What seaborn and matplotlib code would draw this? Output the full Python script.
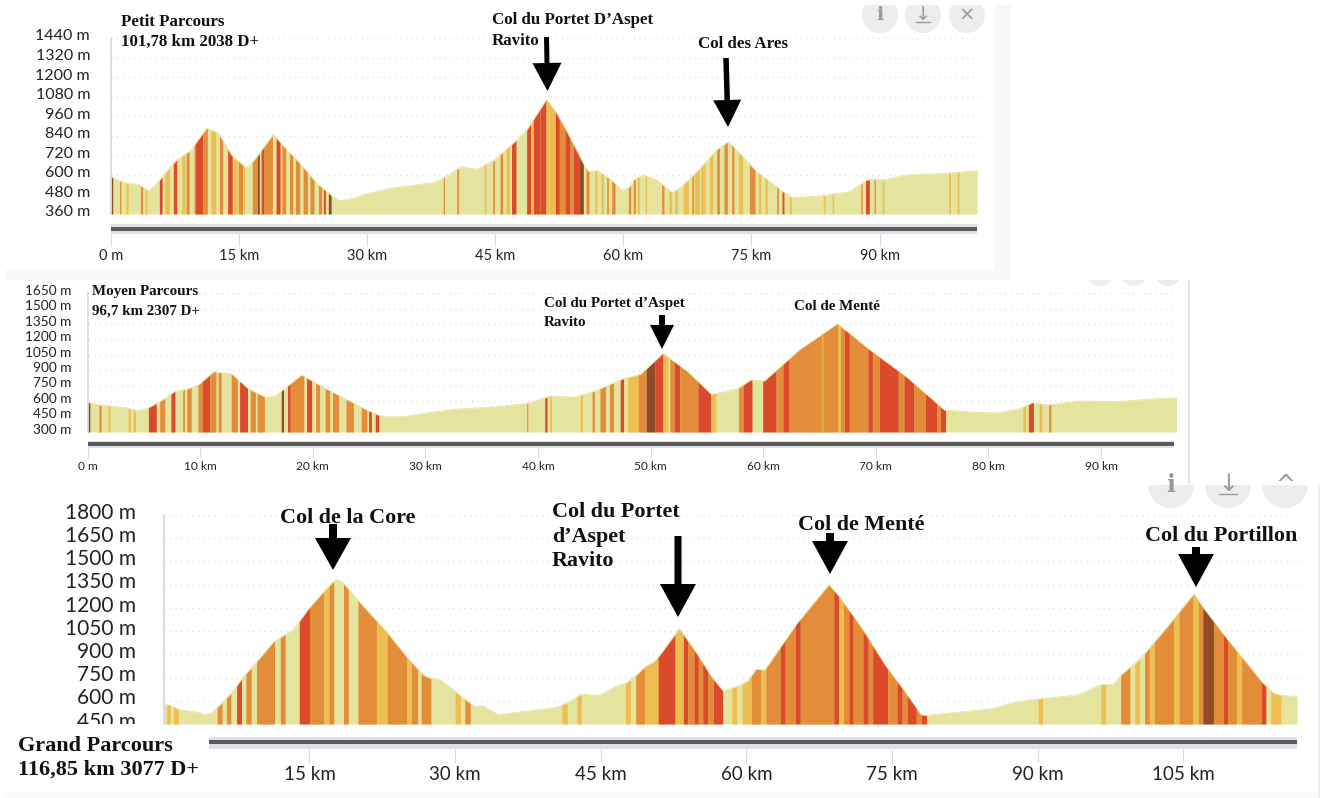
import numpy as np
import pandas as pd
import seaborn as sns
import matplotlib
matplotlib.use("Agg")
import matplotlib.pyplot as plt
from matplotlib.patches import Rectangle, Circle
from matplotlib.transforms import ScaledTranslation, Bbox

# ---------- data ----------
p1_km = [0,0.5,1.8,3.2,4.4,5.3,6.5,7.7,9.3,11.2,12.6,14.1,15.9,17.1,19,20.6,22.3,24.1,26,26.8,28.4,29.9,32.7,37.7,38.9,41,42.8,44.8,
         47.5,48.7,51,52.2,53.7,55.3,55.9,57,58.6,59.8,60.6,61.2,62.3,63.9,65.7,66.8,69,70.9,72.3,73.6,75.6,78.7,79.7,83,86.5,88.5,89.5,90.4,93.2,97.9,101.4]
p1_elev = [589,575,548,542,503,544,620,692,749,886,855,722,640,712,849,753,661,548,466,442,456,483,518,552,579,651,634,688,
           814,876,1064,978,835,671,620,626,569,507,518,569,600,569,491,528,640,753,804,733,620,497,462,470,497,569,573,569,600,610,626]
p1_yticks = [360,480,600,720,840,960,1080,1200,1320,1440]
p1_xticks = [0,15,30,45,60,75,90]
p1_bands = [(0,0.2,'D'),(1,1.15,'O'),(1.75,2,'L'),(3.45,3.7,'O'),(4,4.2,'L'),(5.66,5.98,'R'),(6.3,6.85,'L'),(7.3,7.7,'R'),(8.3,8.67,'L'),(8.8,9.15,'O'),
            (9.72,9.9,'O'),(9.9,10.74,'R'),(10.74,11.28,'O'),(11.7,12.26,'L'),(12.7,13.08,'O'),(13.66,14.2,'R'),(14.33,14.8,'L'),(14.9,15.42,'O'),(15.5,15.65,'L'),
            (16.55,17.15,'O'),(17.15,17.37,'D'),(17.57,17.92,'R'),(17.92,18.9,'O'),(19.33,19.8,'R'),(20,20.45,'O'),(20.9,21.28,'O'),(21.6,22.1,'O'),(22.5,23,'O'),
            (23.3,23.77,'O'),(24.3,24.67,'O'),(24.87,25.1,'R'),(25.45,25.77,'D'),
            (38.9,39.05,'O'),(40.5,40.7,'O'),(43.7,43.9,'L'),(44.7,44.9,'O'),(45.55,45.86,'O'),(46.25,46.65,'L'),(46.9,47.42,'R'),(48.67,49.14,'R'),(49.14,49.45,'L'),
            (49.45,50.23,'R'),(50.23,50.94,'R'),(50.94,51.33,'L'),(51.33,52.03,'L'),(52.03,52.5,'R'),(52.5,53.16,'O'),(53.16,53.75,'R'),(53.75,54.14,'O'),(54.14,54.84,'R'),
            (54.84,55.31,'D'),(55.62,55.97,'O'),(56.67,56.87,'L'),(57.38,57.65,'L'),(58.04,58.24,'O'),(58.63,59.02,'O'),(60.58,60.85,'O'),(61.16,61.4,'O'),(61.63,61.87,'L'),
            (62.53,62.72,'L'),(64.48,64.75,'O'),(65.34,65.65,'L'),(66.04,66.32,'L'),(67,67.6,'L'),(68,68.2,'O'),(68.3,68.9,'L'),(69.05,69.56,'L'),(70.07,70.46,'L'),
            (70.92,71.24,'O'),(71.78,72.17,'O'),(72.68,72.95,'O'),(73.46,73.97,'L'),(74.75,75.41,'O'),(75.8,76.08,'L'),(76.58,76.86,'L'),(77.95,78.15,'O'),(78.58,78.8,'R'),
            (79.43,79.67,'L'),(83.41,83.61,'L'),(84.43,84.62,'L'),(87.8,87.95,'O'),(88.35,88.8,'R'),(89.35,89.5,'O'),(90.3,90.5,'L'),(98.1,98.3,'L'),(99.1,99.3,'L')]

p2_km = [0,1.05,3.4,4.4,5.3,6.5,7.7,8.9,9.9,11.2,12.8,14.3,15.8,16.7,19,21.1,22.8,24.8,25.8,26.5,28.2,29.9,32.6,36.4,39.1,41.1,43.2,44.9,
         47.5,49.1,51.1,53.3,55.4,57.7,58.9,60.1,63.2,66.6,69.3,72.7,76.1,78.8,80.9,82.9,83.9,85.3,88,91.4,94.4,96.7]
p2_elev = [589,563,537,508,531,602,693,719,764,888,865,719,638,654,855,725,628,514,466,446,449,482,521,547,579,651,638,693,
           816,862,1066,888,667,719,807,797,1099,1355,1115,839,514,492,485,531,586,563,602,595,621,634]
p2_yticks = [300,450,600,750,900,1050,1200,1350,1500,1650]
p2_xticks = [0,10,20,30,40,50,60,70,80,90]
p2_bands = [(0,0.2,'D'),(1,1.2,'O'),(1.8,2,'L'),(3.6,3.8,'L'),(4.05,4.25,'L'),(5.4,6.1,'R'),(6.4,6.85,'O'),(7.4,7.75,'R'),(8.45,8.6,'O'),(8.8,9.2,'O'),
            (9.8,10.2,'O'),(10.2,10.85,'R'),(10.85,11.4,'O'),(11.6,11.85,'O'),(12.75,13.3,'O'),(13.5,14.2,'R'),(14.45,14.9,'O'),(15.05,15.7,'O'),
            (17.2,17.4,'D'),(17.75,18,'R'),(18,19.2,'O'),(19.45,19.9,'R'),(20.25,20.6,'O'),(21.1,21.5,'O'),(21.75,22.3,'O'),(22.95,23.6,'O'),(24.3,24.8,'O'),
            (24.95,25.2,'R'),(25.55,25.85,'R'),(39,39.1,'O'),(40.6,40.8,'R'),(41.05,41.2,'L'),(43.75,43.95,'L'),(44.8,45,'O'),(45.5,46,'O'),(46.35,46.7,'O'),
            (47.3,47.6,'R'),(47.95,48.9,'L'),(48.9,49.6,'O'),(49.6,50.4,'D'),(50.4,51.1,'R'),(51.1,51.55,'L'),(51.7,52.1,'O'),(52.1,52.6,'R'),(52.6,54.2,'O'),
            (54.2,55.35,'R'),(55.35,55.8,'L'),(57.8,58.25,'O'),(58.25,59,'R'),(59.95,61.15,'R'),(61.15,61.75,'O'),(61.75,62.3,'R'),(62.3,66.6,'O'),(65.2,65.3,'L'),
            (66.6,66.85,'L'),(66.85,67.2,'O'),(67.2,67.65,'R'),(67.65,69.3,'O'),(69.3,69.7,'R'),(69.7,70.3,'O'),(70.3,72,'R'),(72,72.5,'O'),(72.5,73.4,'R'),
            (73.4,74.4,'O'),(74.4,75.4,'R'),(75.4,75.75,'O'),(75.75,76.2,'R'),(83.05,83.3,'L'),(83.55,84,'R'),(84.5,84.75,'L'),(85.35,85.55,'O')]

p3_km = [0,0.5,1.6,3.4,4.2,4.9,5.8,7.1,8.2,9.6,11.3,12.4,13.3,14.8,16.6,17.7,18.4,20.6,22.8,25,26.7,27.4,28.5,29.8,31.3,32,32.9,34.4,37.1,40.4,41.5,43,44.8,46.5,47.6,48.7,49.6,50.5,
         51.1,53.1,55,56.4,57.6,59,60.1,61,61.9,65.2,68.5,69.6,71.8,74.4,76.2,78,78.6,81.9,85.4,87.6,90.1,94.2,96.4,97.8,98.6,100.6,103.5,106.1,107,109.2,111,113.2,114.3,115.1,116.7]
p3_elev = [574,574,542,527,510,521,574,660,756,853,981,1024,1056,1185,1314,1384,1367,1206,1056,885,767,746,735,671,596,564,568,510,531,557,585,643,634,692,714,767,821,853,
           896,1067,896,756,664,692,724,804,799,1099,1350,1271,1078,821,671,510,506,527,549,591,611,639,703,707,767,874,1089,1292,1206,1024,885,714,649,634,628]
p3_yticks = [450,600,750,900,1050,1200,1350,1500,1650,1800]
p3_xticks = [15,30,45,60,75,90,105]
p3_bands = [(0.3,0.65,'L'),(1,1.5,'L'),(5.5,6,'O'),(6.45,6.9,'O'),(7.5,8,'R'),(8.45,9,'O'),(9.55,11.4,'O'),(12,12.5,'O'),(13.95,15,'R'),(15,16.45,'O'),
            (16.45,17,'L'),(17,17.5,'O'),(18.5,19,'O'),(20,21.9,'O'),(21.9,23,'L'),(23,25,'O'),(25,25.5,'L'),(25.5,26.15,'O'),(26.5,27.5,'O'),(30,30.55,'L'),(31,31.55,'O'),
            (41,41.55,'L'),(42.55,43,'L'),(47.55,48.05,'L'),(48.6,49.5,'O'),(49.5,50.9,'L'),(50.9,52.65,'R'),(52.65,53.5,'L'),(53.5,53.95,'R'),(53.95,54.6,'O'),(54.6,55.05,'R'),
            (55.05,55.5,'O'),(55.5,56,'R'),(56,56.6,'O'),(56.6,57.55,'R'),(58.5,59,'L'),(59.55,60.5,'L'),(60.5,61.45,'O'),(61.45,62,'L'),(62,63.5,'O'),(63.5,64,'R'),(64,65.05,'O'),
            (65.05,65.55,'R'),(65.55,69,'O'),(69,69.5,'R'),(69.5,70,'L'),(70,70.55,'O'),(70.55,71,'R'),(71,72,'O'),(72,72.55,'R'),(72.55,73,'O'),(73,74.55,'R'),(74.55,75.5,'O'),
            (75.5,76.05,'R'),(76.05,76.55,'O'),(76.55,77.5,'R'),(77.5,78,'O'),(78,78.55,'R'),(90.05,90.5,'L'),(96.5,97,'L'),(98.55,99.5,'O'),(100,100.5,'L'),(101,101.5,'O'),
            (101.5,102,'L'),(102,104,'O'),(104,104.55,'L'),(104.55,106,'O'),(106,106.55,'L'),(106.55,107,'O'),(107,108.1,'D'),(108.1,109.1,'O'),(109.1,109.55,'R'),
            (109.55,110.5,'O'),(110.5,111,'L'),(111,113,'O'),(113,113.5,'R'),(114,115.05,'L')]

PALE = '#E5E49E'
CLASS_COLORS = {'L': '#EDBE52', 'O': '#E38D3A', 'R': '#DB4A2B', 'D': '#8F4B2A'}

# ---------- figure ----------
W, H = 1330, 798
PT = 0.72  # points per pixel at dpi 100
sns.set_theme(style='white')
plt.rcParams['font.family'] = ['Lato', 'DejaVu Sans']
fig = plt.figure(figsize=(W / 100, H / 100), dpi=100, facecolor='white')


def px_axes(x0, ytop, x1, ybot, **kw):
    return fig.add_axes([x0 / W, 1 - ybot / H, (x1 - x0) / W, (ybot - ytop) / H], **kw)


def draw_panel(x0, x1, ytop, ybot, px_per_km, km, elev, bands, yticks, xticks, label_x,
               ysize, xsize, ylab_dy, bar, tick_bottom, label_y, bar_x0=None):
    ax = px_axes(x0, ytop, x1, ybot, facecolor='none', zorder=2)
    ax.set_xlim(0, (x1 - x0) / px_per_km)
    ax.set_ylim(yticks[0], yticks[-1])
    km = np.array(km, float)
    elev = np.array(elev, float)
    df = pd.DataFrame({'km': km, 'elev': elev})
    ax.fill_between(km, yticks[0], elev, color=PALE, lw=0)
    sns.lineplot(data=df, x='km', y='elev', ax=ax, color=PALE, lw=0.6, errorbar=None, sort=False)
    for a, b, c in bands:
        inner = km[(km > a) & (km < b)]
        xs = np.concatenate([[a], inner, [b]])
        ax.fill_between(xs, yticks[0], np.interp(xs, km, elev), color=CLASS_COLORS[c], lw=0)
    ax.set_xlabel('')
    ax.set_ylabel('')
    ax.set_xticks([])
    ax.set_yticks(yticks)
    ax.set_yticklabels([f'{v} m' for v in yticks])
    ax.grid(axis='y', color='#E4E4E4', lw=1, ls=(0, (1, 3)))
    ax.set_axisbelow(True)
    for s in ('top', 'right', 'bottom'):
        ax.spines[s].set_visible(False)
    ax.spines['left'].set_color('#D6D9E6')
    ax.tick_params(axis='y', length=0, pad=(x0 - label_x) * PT, labelsize=ysize, labelcolor='#222222')
    off = ScaledTranslation(0, ylab_dy / 100, fig.dpi_scale_trans)
    for lab in ax.get_yticklabels():
        lab.set_transform(lab.get_transform() + off)

    # range-slider strip with the km axis
    b0, b1, d0, d1 = bar
    sl = px_axes(x0, b0, x1, b1, facecolor='none', zorder=2)
    sl.set_xlim(ax.get_xlim())
    sl.set_ylim(b1, b0)
    start = (bar_x0 - x0) / (x1 - x0) if bar_x0 else 0
    sl.axhspan(b0, b1, xmin=start, xmax=0.997, color='#DFE0E6', lw=0)
    sl.axhspan(d0, d1, xmin=start, xmax=0.997, color='#5A5A5A', lw=0)
    sl.set_yticks([])
    sl.set_xticks(xticks)
    sl.set_xticklabels([f'{v} km' if v else '0 m' for v in xticks])
    for s in sl.spines.values():
        s.set_visible(False)
    pad_px = label_y - tick_bottom - 0.5 * xsize
    sl.tick_params(axis='x', bottom=True, length=(tick_bottom - b1) * PT, width=0.8, color='#D6D9E6',
                   labelsize=xsize, labelcolor='#222222', pad=pad_px * PT)
    return ax


ax1 = draw_panel(111, 980, 38, 214, 8.54, p1_km, p1_elev, p1_bands, p1_yticks, p1_xticks, 90,
                 11.5, 10.5, 3, (224, 234, 227, 230.7), 246, 254)
ax2 = draw_panel(87.6, 1177, 293.4, 432, 11.26, p2_km, p2_elev, p2_bands, p2_yticks, p2_xticks, 71.6,
                 9.8, 8.6, 3.3, (441, 448, 442.5, 446), 458, 465)
ax3 = draw_panel(163.8, 1300, 515, 724, 9.71, p3_km, p3_elev, p3_bands, p3_yticks, p3_xticks, 136,
                 15, 13.5, 4.3, (736.7, 749, 740, 743.7), 763, 773, bar_x0=209.4)
# the lowest label of the big panel is cut by the plot's bottom edge
ax3.get_yticklabels()[0].set_clip_on(True)
ax3.get_yticklabels()[0].set_clip_box(Bbox([[0, H - 724], [W, H]]))

# ---------- page furniture and annotations ----------
bg = px_axes(0, 0, W, H, zorder=0)
bg.set_xlim(0, W); bg.set_ylim(H, 0); bg.axis('off')
bg.add_patch(Rectangle((995, 5), 16, 265, color='#F8F8F8', lw=0))
bg.add_patch(Rectangle((5, 270), 1006, 10, color='#F8F8F8', lw=0))
bg.add_patch(Rectangle((1188, 280), 1.5, 204, color='#E6E6E6', lw=0))
bg.add_patch(Rectangle((1318, 485), 1.5, 313, color='#EDEDED', lw=0))
bg.add_patch(Rectangle((5, 793), 1313, 5, color='#FAFAFA', lw=0))

ov = px_axes(0, 0, W, H, zorder=5, facecolor='none')
ov.set_xlim(0, W); ov.set_ylim(H, 0); ov.axis('off')


def buttons(xs, y, r, clip_y, size, last='×'):
    clip = Rectangle((0, clip_y), W, 60, transform=ov.transData)
    for x, g in zip(xs, ['i', '↓', last]):
        c = Circle((x, y), r, color='#EDEDED', lw=0)
        ov.add_patch(c)
        c.set_clip_path(clip)
        if not size:
            continue
        t = ov.text(x, y - (1 if g == '↓' else 0), g, ha='center', va='center', fontsize=size, color='#9A9A9A',
                    family=['DejaVu Serif'] if g == 'i' else ['DejaVu Sans'], weight='bold' if g == 'i' else 'normal')
        t.set_clip_path(clip)
        if g == '↓':  # the bar under the download arrow
            line, = ov.plot([x - r * 0.4, x + r * 0.4], [y + r * 0.4] * 2, color='#9A9A9A', lw=1)
            line.set_clip_path(clip)


buttons([880, 923, 967], 15, 18, 5, 14)
buttons([1100, 1134, 1168], 272, 14, 280, 0)
buttons([1171, 1228, 1285], 485, 23, 485, 17, last='^')


def label(x, y, s, size):
    ov.text(x, y, s, ha='left', va='center', fontsize=size, fontweight='bold',
            family=['Liberation Serif'], color='#111111')


for x, y, s, size in [
    (121, 22, 'Petit Parcours', 12.2), (121, 42, '101,78 km 2038 D+', 12.2),
    (492, 20, 'Col du Portet D’Aspet', 12.2), (492, 41, 'Ravito', 12.2), (698, 44, 'Col des Ares', 12.2),
    (92, 292, 'Moyen Parcours', 10.8), (92, 311, '96,7 km 2307 D+', 10.8),
    (544, 304, 'Col du Portet d’Aspet', 10.8), (544, 323, 'Ravito', 10.8), (794, 306, 'Col de Menté', 10.8),
    (280, 518, 'Col de la Core', 15.8), (552, 512, 'Col du Portet', 15.8), (552, 537, 'd’Aspet', 15.8),
    (552, 561, 'Ravito', 15.8), (798, 525, 'Col de Menté', 15.8), (1145, 536, 'Col du Portillon', 15.8),
    (18, 746, 'Grand Parcours', 16), (18, 770, '116,85 km 3077 D+', 16),
]:
    label(x, y, s, size)

for x0, y0, x1, y1, hl, hw, sw in [
    (546.5, 37, 547.5, 91, 28, 29, 5),
    (726, 58, 728, 127, 27, 28, 5.5),
    (662, 315, 662, 349, 24, 24, 6),
    (333, 524, 333, 570, 32, 36, 8),
    (678, 536, 678, 617, 33, 36, 7),
    (830, 533, 830, 574, 33, 36, 8),
    (1196, 547, 1196, 587, 33, 36, 8),
]:
    ov.arrow(x0, y0, x1 - x0, y1 - y0, width=sw, head_width=hw, head_length=hl,
             length_includes_head=True, color='black', lw=0)

fig.savefig('out.png', dpi=100)
